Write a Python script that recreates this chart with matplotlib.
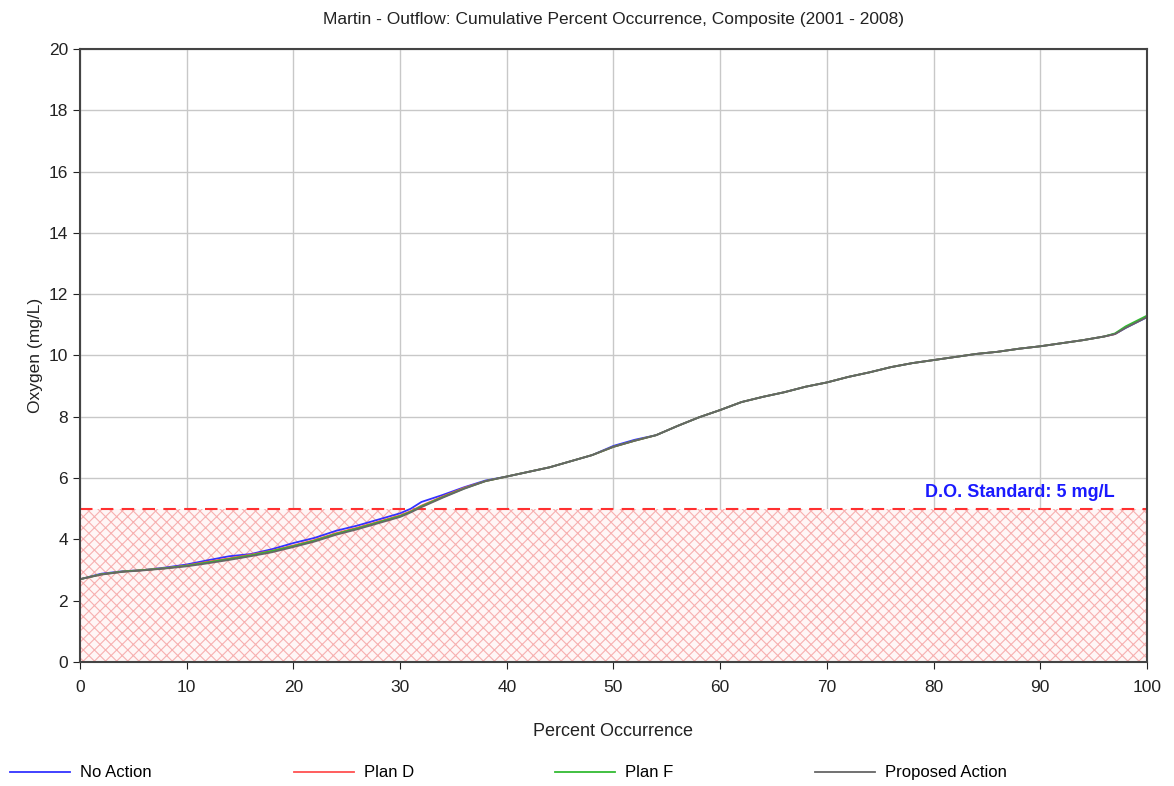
import numpy as np
import matplotlib.pyplot as plt

# cumulative percent occurrence (x) and oxygen (mg/L) for each run
pct = [0, 2, 4, 6, 8, 10, 12, 14, 16, 18, 20, 22, 24, 26, 28, 30, 31, 32, 34, 36,
       38, 40, 42, 44, 46, 48, 50, 52, 54, 56, 58, 60, 62, 64, 66, 68, 70, 72,
       74, 76, 78, 80, 82, 84, 86, 88, 90, 92, 94, 96, 97, 98, 100]
no_action = [2.70, 2.88, 2.96, 3.00, 3.08, 3.18, 3.32, 3.45, 3.52, 3.68, 3.88, 4.05,
             4.28, 4.45, 4.65, 4.85, 5.00, 5.22, 5.45, 5.70, 5.92, 6.05, 6.20, 6.35,
             6.55, 6.75, 7.05, 7.25, 7.40, 7.70, 7.98, 8.22, 8.48, 8.65, 8.80, 8.98,
             9.12, 9.30, 9.45, 9.62, 9.75, 9.85, 9.95, 10.05, 10.12, 10.22, 10.30,
             10.40, 10.50, 10.62, 10.70, 10.90, 11.25]
plan_d = [2.70, 2.86, 2.95, 3.00, 3.06, 3.15, 3.27, 3.38, 3.50, 3.63, 3.80, 3.98,
          4.20, 4.38, 4.58, 4.78, 4.92, 5.10, 5.40, 5.68, 5.90, 6.05, 6.20, 6.35,
          6.55, 6.75, 7.02, 7.22, 7.40, 7.70, 7.98, 8.22, 8.48, 8.65, 8.80, 8.98,
          9.12, 9.30, 9.45, 9.62, 9.75, 9.85, 9.95, 10.05, 10.12, 10.22, 10.30,
          10.40, 10.50, 10.62, 10.70, 10.92, 11.27]
plan_f = [2.70, 2.86, 2.95, 3.00, 3.06, 3.14, 3.25, 3.36, 3.48, 3.62, 3.78, 3.96,
          4.18, 4.36, 4.56, 4.76, 4.90, 5.08, 5.38, 5.66, 5.90, 6.05, 6.20, 6.35,
          6.55, 6.75, 7.02, 7.22, 7.40, 7.70, 7.98, 8.22, 8.48, 8.65, 8.80, 8.98,
          9.12, 9.30, 9.45, 9.62, 9.75, 9.85, 9.95, 10.05, 10.12, 10.22, 10.30,
          10.40, 10.50, 10.62, 10.72, 10.95, 11.30]
proposed = [2.70, 2.85, 2.94, 2.99, 3.05, 3.12, 3.22, 3.33, 3.45, 3.58, 3.75, 3.93,
            4.15, 4.33, 4.53, 4.73, 4.88, 5.05, 5.36, 5.65, 5.90, 6.05, 6.20, 6.35,
            6.55, 6.75, 7.02, 7.22, 7.40, 7.70, 7.98, 8.22, 8.48, 8.65, 8.80, 8.98,
            9.12, 9.30, 9.45, 9.62, 9.75, 9.85, 9.95, 10.05, 10.12, 10.22, 10.30,
            10.40, 10.50, 10.62, 10.70, 10.90, 11.25]
do_standard = 5

plt.rcParams['font.family'] = ['Liberation Sans', 'DejaVu Sans']
plt.rcParams['hatch.color'] = '#f7b0b0'
plt.rcParams['hatch.linewidth'] = 0.8

fig = plt.figure(figsize=(11.74, 7.86), dpi=100)
ax = fig.add_axes([0.0681, 0.1578, 0.9089, 0.7799])

# D.O. standard shaded region
ax.fill_between([0, 100], 0, do_standard, facecolor='#fff6f6', edgecolor='#f7b0b0',
                hatch='xxx', linewidth=0)
ax.axhline(do_standard, color='#ff3030', linestyle=(0, (6, 4)), linewidth=1.5)
ax.text(97, do_standard + 0.25, 'D.O. Standard: 5 mg/L', color='#1a1aff',
        fontsize=13, fontweight='bold', ha='right', va='bottom')

ax.plot(pct, no_action, color='#3333ff', linewidth=1.3, label='No Action')
ax.plot(pct, plan_d, color='#ff5050', linewidth=1.3, label='Plan D')
ax.plot(pct, plan_f, color='#33bb33', linewidth=1.3, label='Plan F')
ax.plot(pct, proposed, color='#666666', linewidth=1.3, label='Proposed Action')

ax.set_xlim(0, 100)
ax.set_ylim(0, 20)
ax.set_xticks(np.arange(0, 101, 10))
ax.set_yticks(np.arange(0, 21, 2))
ax.grid(True, color='#c8c8c8', linewidth=1)
ax.set_axisbelow(True)
for s in ax.spines.values():
    s.set_color('#444444')
    s.set_linewidth(1.5)
ax.tick_params(labelsize=12.5, colors='#222222', length=5)
ax.tick_params(axis='x', pad=8)

ax.set_title('Martin - Outflow: Cumulative Percent Occurrence, Composite (2001 - 2008)',
             fontsize=12.5, color='#222222', pad=18)
ax.set_xlabel('Percent Occurrence', fontsize=13, color='#222222', labelpad=20)
ax.set_ylabel('Oxygen (mg/L)', fontsize=12.5, color='#222222')

fig.legend(loc='lower left', bbox_to_anchor=(-0.004, -0.012), ncol=4, frameon=False,
           fontsize=12, handlelength=3.6, handletextpad=0.6, columnspacing=8.5)

fig.savefig('out.png', dpi=100)
